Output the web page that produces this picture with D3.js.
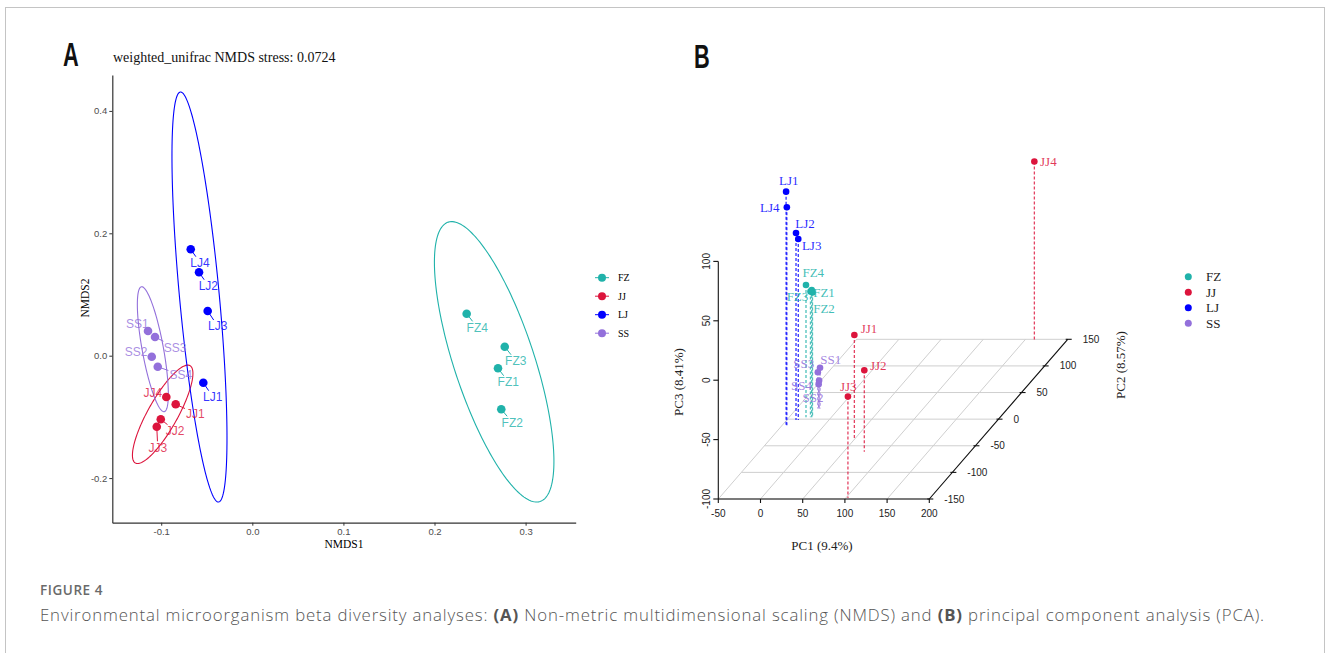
<!DOCTYPE html>
<html>
<head>
<meta charset="utf-8">
<script src="https://cdn.jsdelivr.net/npm/d3@7"></script>
<style>
  body { margin: 0; background: #fff; }
</style>
</head>
<body>
<div id="chart"></div>
<script>
// ---------- data ----------
const groups = ["FZ", "JJ", "LJ", "SS"];
const groupColors = ["#20B2AA", "#DC143C", "#0000FF", "#9370DB"];

const samples = ["FZ1", "FZ2", "FZ3", "FZ4", "JJ1", "JJ2", "JJ3", "JJ4",
                 "LJ1", "LJ2", "LJ3", "LJ4", "SS1", "SS2", "SS3", "SS4"];

// NMDS coordinates (panel A)
const nmds1 = [0.2697, 0.2733, 0.2771, 0.2353, -0.0841, -0.1005, -0.1049, -0.0944,
               -0.0538, -0.0585, -0.0490, -0.0676, -0.1145, -0.1104, -0.1068, -0.1038];
const nmds2 = [-0.0206, -0.0876, 0.0147, 0.0686, -0.0794, -0.1039, -0.1160, -0.0675,
               -0.0441, 0.1363, 0.0730, 0.1739, 0.0404, -0.0016, 0.0306, -0.0180];

// confidence ellipses per group (centre, sd along each axis, correlation)
const ellCx  = [0.2655, -0.0984, -0.0580, -0.1092];
const ellCy  = [-0.0100, -0.0958, 0.0959, 0.0106];
const ellSx  = [0.0656, 0.0332, 0.0302, 0.0170];
const ellSy  = [0.2291, 0.0804, 0.3350, 0.1021];
const ellRho = [-0.71, 0.83, -0.687, -0.716];

// PCA coordinates (panel B)
const pc1 = [-23.2, -22.3, -24.7, -30.0, 50.6, 74.4, 102.5, 161.6,
             -45.7, -39.1, -36.4, -44.5, -22.4, -24.0, -25.0, -23.5];
const pc2 = [3.5, 3.5, 3.5, 3.5, -39.1, -61.1, -148, 148,
             -10.9, -1.5, -1.5, -11.5, 20, 20, 20, 20];
const pc3 = [7.2, 5.0, 5.9, 11.4, -11.6, -31.5, -14.7, 50.5,
             96.4, 57.4, 52.3, 83.5, -65.7, -79.5, -69.5, -76.5];

const nmdsTicksX = [-0.1, 0.0, 0.1, 0.2, 0.3];
const nmdsTicksY = [-0.2, 0.0, 0.2, 0.4];
const pc1Ticks = [-50, 0, 50, 100, 150, 200];
const pc2Ticks = [-150, -100, -50, 0, 50, 100, 150];
const pc3Ticks = [-100, -50, 0, 50, 100];

// ---------- layout: label nudges (pixels) ----------
const nudgeA = [[10.3, 13.4], [11, 13], [11, 14], [10.6, 13.6], [19.6, 9], [14.3, 11.4], [1, 20.6], [-13.6, -4.7],
                [9.4, 14], [9.3, 13.4], [10, 15], [9.3, 13.4], [-10.7, -7.7], [-15.7, -5], [20, 10.3], [23, 8.3]];
const nudgeB = [[12.3, 2.7], [11.5, 15.8], [-13, 4.5], [7.3, -12.3], [14.7, -6.7], [14, -5.3], [0.3, -10], [14, 0],
                [2.6, -11], [9, -10], [13.4, 6], [-17, 0], [10.7, -8.4], [-5.6, 13.3], [-14, -8.4], [-17.6, 5]];

const serif = "'Liberation Serif', 'Times New Roman', serif";
const sans = "'Liberation Sans', Arial, sans-serif";

const W = 1330, H = 653;
const svg = d3.select("#chart").append("svg")
  .attr("width", W).attr("height", H);

const color = d3.scaleOrdinal().domain(groups).range(groupColors);
const grp = s => s.slice(0, 2);

// frame
svg.append("rect")
  .attr("x", 5.5).attr("y", 7.5).attr("width", 1319).attr("height", 700)
  .attr("fill", "none").attr("stroke", "#c4c4c4").attr("stroke-width", 1);

// panel letter, narrow bold
function panelLetter(x, y, txt) {
  svg.append("text").attr("transform", `translate(${x},${y}) scale(0.66,1)`)
    .attr("font-family", sans).attr("font-weight", "bold").attr("font-size", 33)
    .attr("fill", "#111").text(txt);
}

// ================= Panel A : NMDS =================
const xA = d3.scaleLinear().domain([-0.1537, 0.3550]).range([112.3, 575.7]);
const yA = d3.scaleLinear().domain([-0.2729, 0.4587]).range([522.7, 75]);
const gA = svg.append("g");

panelLetter(63, 66, "A");
gA.append("text").attr("x", 113).attr("y", 62)
  .attr("font-family", serif).attr("font-size", 14).attr("fill", "#111")
  .text("weighted_unifrac NMDS stress: 0.0724");

const fmt1 = d => d.toFixed(1);
const axA_x = gA.append("g").attr("transform", "translate(0,522.7)")
  .call(d3.axisBottom(xA).tickValues(nmdsTicksX).tickFormat(fmt1).tickSize(3).tickSizeOuter(0));
const axA_y = gA.append("g").attr("transform", "translate(112.3,0)")
  .call(d3.axisLeft(yA).tickValues(nmdsTicksY).tickFormat(fmt1).tickSize(3).tickSizeOuter(0).tickPadding(2));
[axA_x, axA_y].forEach(a => {
  a.select(".domain").attr("stroke", "#333").attr("stroke-width", 1.2);
  a.selectAll(".tick line").attr("stroke", "#333");
  a.selectAll(".tick text").attr("fill", "#4d4d4d").attr("font-size", 9.5).attr("font-family", sans);
});

gA.append("text").attr("x", 344).attr("y", 548).attr("text-anchor", "middle")
  .attr("font-family", serif).attr("font-size", 11.5).text("NMDS1");
gA.append("text").attr("transform", "translate(89,298) rotate(-90)").attr("text-anchor", "middle")
  .attr("font-family", serif).attr("font-size", 11.5).text("NMDS2");

// ellipses
const tSteps = d3.range(0, 2 * Math.PI, Math.PI / 90);
const ellLine = d3.line().x(d => xA(d[0])).y(d => yA(d[1])).curve(d3.curveLinearClosed);
groups.forEach((g, i) => {
  const pts = tSteps.map(t => [
    ellCx[i] + ellSx[i] * Math.cos(t),
    ellCy[i] + ellSy[i] * (ellRho[i] * Math.cos(t) + Math.sqrt(1 - ellRho[i] * ellRho[i]) * Math.sin(t))
  ]);
  gA.append("path").attr("d", ellLine(pts)).attr("fill", "none")
    .attr("stroke", groupColors[i]).attr("stroke-width", 1.1);
});

// labels + segments
samples.forEach((s, i) => {
  const px = xA(nmds1[i]), py = yA(nmds2[i]);
  const lx = px + nudgeA[i][0], ly = py + nudgeA[i][1];
  const t = gA.append("text").attr("x", lx).attr("y", ly).attr("dy", "0.36em")
    .attr("text-anchor", "middle").attr("font-family", sans).attr("font-size", 12)
    .attr("fill", color(grp(s))).attr("fill-opacity", 0.8).text(s);
  const w = t.node().getComputedTextLength() / 2 + 1, h = 6;
  const dx = lx - px, dy = ly - py;
  const k = Math.min(Math.abs(dx) > 0 ? w / Math.abs(dx) : 1e9, Math.abs(dy) > 0 ? h / Math.abs(dy) : 1e9);
  const ex = lx - dx * k, ey = ly - dy * k;
  gA.insert("line", "text").attr("x1", px).attr("y1", py).attr("x2", ex).attr("y2", ey)
    .attr("stroke", color(grp(s))).attr("stroke-width", 1);
});

gA.selectAll("circle.pt").data(samples).join("circle").attr("class", "pt")
  .attr("cx", (d, i) => xA(nmds1[i])).attr("cy", (d, i) => yA(nmds2[i]))
  .attr("r", 4.3).attr("fill", d => color(grp(d)));

// legend A
const legA = gA.append("g");
groups.forEach((g, i) => {
  const y = 277.7 + i * 18.5;
  legA.append("line").attr("x1", 595).attr("x2", 609).attr("y1", y).attr("y2", y)
    .attr("stroke", groupColors[i]).attr("stroke-width", 1);
  legA.append("circle").attr("cx", 602).attr("cy", y).attr("r", 4).attr("fill", groupColors[i]);
  legA.append("text").attr("x", 618).attr("y", y).attr("dy", "0.35em")
    .attr("font-family", serif).attr("font-size", 10).text(g);
});

// ================= Panel B : PCA 3D =================
const gB = svg.append("g");
const bx = d3.scaleLinear().domain([-50, 200]).range([718.3, 929.3]);
const bz = d3.scaleLinear().domain([-100, 100]).range([499, 261.4]);
const by = d3.scaleLinear().domain([-150, 150]).range([0, 1]);
const depth = [138.4, -159.7];
const proj = (x, y, z) => [bx(x) + by(y) * depth[0], bz(z) + by(y) * depth[1]];

panelLetter(694, 68, "B");

const seg = (a, b) => `M${a[0]},${a[1]}L${b[0]},${b[1]}`;
// grid on the floor
pc2Ticks.forEach(y => {
  gB.append("path").attr("d", seg(proj(-50, y, -100), proj(200, y, -100)))
    .attr("stroke", "#cfcfcf").attr("stroke-width", 1).attr("fill", "none");
});
pc1Ticks.forEach(x => {
  gB.append("path").attr("d", seg(proj(x, -150, -100), proj(x, 150, -100)))
    .attr("stroke", "#cfcfcf").attr("stroke-width", 1).attr("fill", "none");
});

// axes
const axisStyle = p => p.attr("stroke", "#111").attr("stroke-width", 1.1).attr("fill", "none");
axisStyle(gB.append("path").attr("d", seg(proj(-50, -150, -100), proj(200, -150, -100))));
axisStyle(gB.append("path").attr("d", seg(proj(-50, -150, -100), proj(-50, -150, 100))));
axisStyle(gB.append("path").attr("d", seg(proj(200, -150, -100), proj(200, 150, -100))));

pc1Ticks.forEach(x => {
  const p = proj(x, -150, -100);
  axisStyle(gB.append("path").attr("d", seg(p, [p[0], p[1] + 4])));
  gB.append("text").attr("x", p[0]).attr("y", p[1] + 18).attr("text-anchor", "middle")
    .attr("font-family", sans).attr("font-size", 10).attr("fill", "#222").text(x);
});
pc3Ticks.forEach(z => {
  const p = proj(-50, -150, z);
  axisStyle(gB.append("path").attr("d", seg(p, [p[0] - 5, p[1]])));
  gB.append("text").attr("transform", `translate(${p[0] - 8},${p[1]}) rotate(-90)`)
    .attr("text-anchor", "middle").attr("font-family", sans).attr("font-size", 10)
    .attr("fill", "#222").text(z);
});
pc2Ticks.forEach(y => {
  const p = proj(200, y, -100);
  axisStyle(gB.append("path").attr("d", seg([p[0] - 2, p[1]], [p[0] + 4, p[1]])));
  gB.append("text").attr("x", p[0] + 15).attr("y", p[1]).attr("dy", "0.35em")
    .attr("font-family", sans).attr("font-size", 10).attr("fill", "#222").text(y);
});

gB.append("text").attr("x", 822).attr("y", 550).attr("text-anchor", "middle")
  .attr("font-family", serif).attr("font-size", 13).attr("fill", "#222").text("PC1 (9.4%)");
gB.append("text").attr("transform", "translate(683,382) rotate(-90)").attr("text-anchor", "middle")
  .attr("font-family", serif).attr("font-size", 13).attr("fill", "#222").text("PC3 (8.41%)");
gB.append("text").attr("transform", "translate(1125,365) rotate(-90)").attr("text-anchor", "middle")
  .attr("font-family", serif).attr("font-size", 13).attr("fill", "#222").text("PC2 (8.57%)");

// drop lines
samples.forEach((s, i) => {
  const top = proj(pc1[i], pc2[i], pc3[i]);
  const bot = proj(pc1[i], pc2[i], -100);
  gB.append("path").attr("d", seg(top, bot)).attr("fill", "none")
    .attr("stroke", color(grp(s))).attr("stroke-opacity", 0.8)
    .attr("stroke-width", 1.3).attr("stroke-dasharray", "3,2");
});
// points
gB.selectAll("circle.pt").data(samples).join("circle").attr("class", "pt")
  .attr("cx", (d, i) => proj(pc1[i], pc2[i], pc3[i])[0])
  .attr("cy", (d, i) => proj(pc1[i], pc2[i], pc3[i])[1])
  .attr("r", 3.3).attr("fill", d => color(grp(d)));
// labels
samples.forEach((s, i) => {
  const p = proj(pc1[i], pc2[i], pc3[i]);
  gB.append("text").attr("x", p[0] + nudgeB[i][0]).attr("y", p[1] + nudgeB[i][1]).attr("dy", "0.35em")
    .attr("text-anchor", "middle").attr("font-family", serif).attr("font-size", 13)
    .attr("fill", color(grp(s))).attr("fill-opacity", 0.85).text(s);
});

// legend B
groups.forEach((g, i) => {
  const y = 276.7 + i * 15.5;
  gB.append("circle").attr("cx", 1188.3).attr("cy", y).attr("r", 3.5).attr("fill", groupColors[i]);
  gB.append("text").attr("x", 1206).attr("y", y).attr("dy", "0.35em")
    .attr("font-family", serif).attr("font-size", 13).attr("fill", "#222").text(g);
});

// ================= caption =================
const capFont = "'Open Sans', Lato, sans-serif";
function fitWidth(sel, target) {
  const n = sel.text().length;
  const len = sel.node().getComputedTextLength();
  sel.attr("letter-spacing", ((target - len) / n).toFixed(3));
}
const fig = svg.append("text").attr("x", 40).attr("y", 595)
  .attr("font-family", capFont).attr("font-size", 13.5).attr("font-weight", 600)
  .attr("fill", "#6a6a6a").text("FIGURE 4");
fitWidth(fig, 63);
const cap = svg.append("text").attr("x", 40).attr("y", 621)
  .attr("font-family", capFont).attr("font-size", 16.8).attr("font-weight", 300).attr("fill", "#555");
cap.append("tspan").text("Environmental microorganism beta diversity analyses: ");
cap.append("tspan").attr("font-weight", "bold").text("(A)");
cap.append("tspan").text(" Non-metric multidimensional scaling (NMDS) and ");
cap.append("tspan").attr("font-weight", "bold").text("(B)");
cap.append("tspan").text(" principal component analysis (PCA).");
fitWidth(cap, 1225);
</script>
</body>
</html>
